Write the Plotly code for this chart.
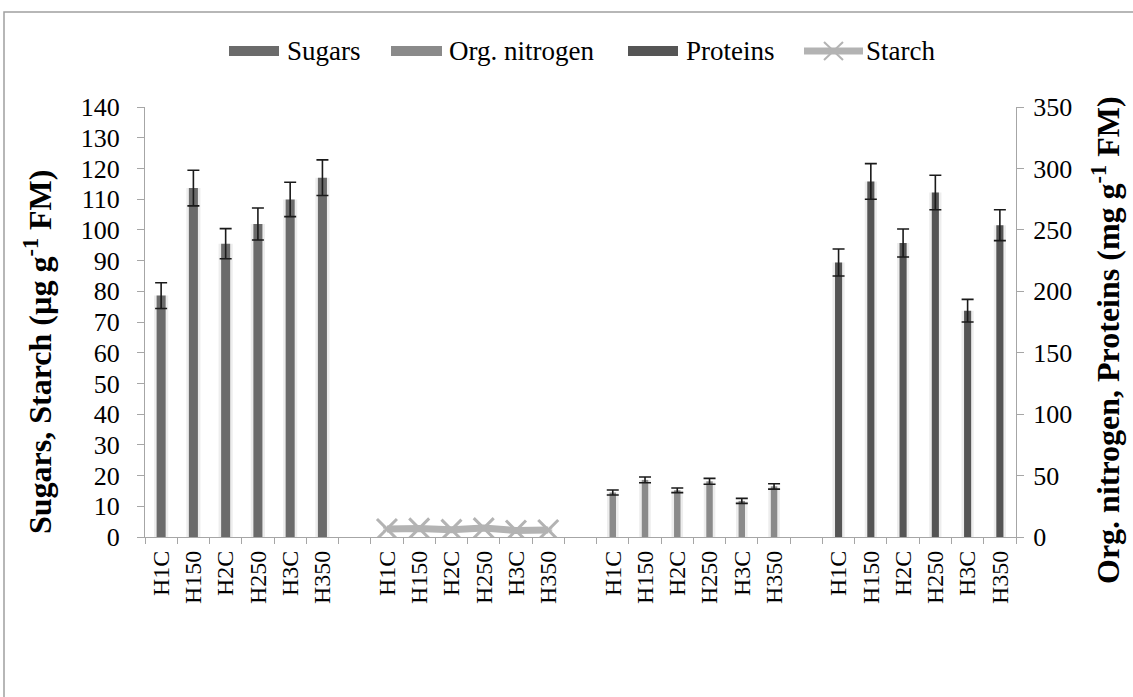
import plotly.graph_objects as go

labels = ["H1C", "H150", "H2C", "H250", "H3C", "H350"]

sugars = [78.6, 113.6, 95.5, 101.9, 109.9, 117.0]
sugars_err = [4.2, 5.8, 4.9, 5.2, 5.6, 5.8]

starch = [2.6, 2.8, 2.4, 2.9, 2.1, 2.3]
starch_err = [0.4, 0.4, 0.3, 0.4, 0.3, 0.3]

org_nitrogen = [36.2, 46.5, 38.0, 45.3, 29.4, 41.2]
org_nitrogen_err = [2.0, 2.3, 1.9, 2.4, 2.0, 2.2]

proteins = [223.4, 289.4, 239.3, 280.4, 184.2, 253.8]
proteins_err = [11.0, 14.5, 11.4, 14.0, 9.2, 12.6]

series_names = ["Sugars", "Org. nitrogen", "Proteins", "Starch"]
left_title = "<b>Sugars, Starch (µg g<sup>-1</sup> FM)</b>"
right_title = "<b>Org. nitrogen, Proteins (mg g<sup>-1</sup> FM)</b>"

W, H = 1133, 697
L, R, T, B = 145, 1016, 107, 537  # plot area in pixels
pw, ph = R - L, B - T
px = lambda v: (v - L) / pw
py = lambda v: (B - v) / ph

n = len(labels)
gap = 1
pos = lambda g: [g * (n + gap) + i for i in range(n)]
x_sug, x_sta, x_org, x_pro = pos(0), pos(1), pos(2), pos(3)
all_x = x_sug + x_sta + x_org + x_pro
all_lab = labels * 4
ncat = 4 * n + 3 * gap

FONT = "Liberation Serif, Times New Roman, serif"
GRID = "#a6a6a6"
C_SUG, C_ORG, C_PRO, C_STA = "#6b6b6b", "#8a8a8a", "#555555", "#b3b3b3"

fig = go.Figure()

def err(vals):
    return dict(type="data", array=vals, visible=True, color="#1a1a1a",
                thickness=1.6, width=6)

def shadow(x, y, w, axis):
    fig.add_trace(go.Bar(x=x, y=y, width=w + 0.16,
                         marker=dict(color="rgba(0,0,0,0.07)", line_width=0),
                         showlegend=False, hoverinfo="skip", yaxis=axis))

shadow(x_sug, sugars, 0.28, "y")
fig.add_trace(go.Bar(name=series_names[0], x=x_sug, y=sugars, width=0.28, showlegend=False,
                     marker=dict(color=C_SUG, line_width=0), error_y=err(sugars_err), yaxis="y"))
shadow(x_org, org_nitrogen, 0.2, "y2")
fig.add_trace(go.Bar(name=series_names[1], x=x_org, y=org_nitrogen, width=0.2, showlegend=False,
                     marker=dict(color=C_ORG, line_width=0), error_y=err(org_nitrogen_err), yaxis="y2"))
shadow(x_pro, proteins, 0.22, "y2")
fig.add_trace(go.Bar(name=series_names[2], x=x_pro, y=proteins, width=0.22, showlegend=False,
                     marker=dict(color=C_PRO, line_width=0), error_y=err(proteins_err), yaxis="y2"))
fig.add_trace(go.Scatter(name=series_names[3], x=x_sta, y=starch, mode="lines+markers", showlegend=False,
                         line=dict(color=C_STA, width=7),
                         marker=dict(symbol="x-thin", size=20, line=dict(color=C_STA, width=3)),
                         error_y=dict(type="data", array=starch_err, visible=True, color=C_STA,
                                      thickness=1.2, width=4),
                         yaxis="y"))

fig.update_layout(
    width=W, height=H,
    margin=dict(l=L, r=W - R, t=T, b=H - B, autoexpand=False),
    paper_bgcolor="white", plot_bgcolor="white",
    barmode="overlay",
    font=dict(family=FONT, color="#000000", size=24),
    showlegend=False,
    xaxis=dict(range=[-0.5, ncat - 0.5],
               tickmode="array", tickvals=all_x, ticktext=all_lab, tickangle=-90,
               ticks="", showline=True, linecolor=GRID, linewidth=1.2,
               showgrid=False, zeroline=False, ticklabelstandoff=3,
               tickfont=dict(family=FONT, size=24),
               minor=dict(tickmode="linear", tick0=-0.5, dtick=1, ticks="outside",
                          ticklen=6, tickcolor=GRID, tickwidth=1.2, showgrid=False)),
    yaxis=dict(range=[0, 140], tickmode="linear", tick0=0, dtick=10,
               ticks="outside", ticklen=7, tickcolor=GRID, tickwidth=1.2,
               showline=True, linecolor=GRID, linewidth=1.2, showgrid=False, zeroline=False,
               ticklabelstandoff=12, tickfont=dict(family=FONT, size=26)),
    yaxis2=dict(range=[0, 350], tickmode="linear", tick0=0, dtick=50, overlaying="y", side="right",
                ticks="outside", ticklen=7, tickcolor=GRID, tickwidth=1.2,
                showline=True, linecolor=GRID, linewidth=1.2, showgrid=False, zeroline=False,
                ticklabelstandoff=4, tickfont=dict(family=FONT, size=26)),
)

# axis titles (placed like the reference, not centred on the axis)
fig.add_annotation(text=left_title, xref="paper", yref="paper", x=px(38), y=py(352),
                   xanchor="center", yanchor="middle", textangle=-90, showarrow=False,
                   font=dict(family=FONT, size=32, color="#000"))
fig.add_annotation(text=right_title, xref="paper", yref="paper", x=px(1106), y=py(340),
                   xanchor="center", yanchor="middle", textangle=-90, showarrow=False,
                   font=dict(family=FONT, size=32, color="#000"))

# outer chart frame
fig.add_shape(type="rect", xref="paper", yref="paper",
              x0=px(4), x1=px(W + 20), y0=py(H + 20), y1=py(12),
              line=dict(color="#a0a0a0", width=1.5), fillcolor="rgba(0,0,0,0)", layer="below")

# legend (drawn as shapes + text to match the reference layout)
LY = 51
legend_items = [
    (series_names[0], C_SUG, 229, 279, 285),
    (series_names[1], C_ORG, 391, 442, 447),
    (series_names[2], C_PRO, 628, 678, 684),
]
for name, col, x0, x1, tx in legend_items:
    fig.add_shape(type="rect", xref="paper", yref="paper",
                  x0=px(x0), x1=px(x1), y0=py(LY + 5), y1=py(LY - 5),
                  line_width=0, fillcolor=col)
    fig.add_annotation(text=name, xref="paper", yref="paper", x=px(tx), y=py(LY),
                       xanchor="left", yanchor="middle", showarrow=False,
                       font=dict(family=FONT, size=27, color="#000"))
fig.add_shape(type="line", xref="paper", yref="paper", x0=px(804), x1=px(863),
              y0=py(LY), y1=py(LY), line=dict(color=C_STA, width=7))
fig.add_shape(type="line", xref="paper", yref="paper", x0=px(824), x1=px(843),
              y0=py(LY - 9), y1=py(LY + 9), line=dict(color=C_STA, width=2))
fig.add_shape(type="line", xref="paper", yref="paper", x0=px(824), x1=px(843),
              y0=py(LY + 9), y1=py(LY - 9), line=dict(color=C_STA, width=2))
fig.add_annotation(text=series_names[3], xref="paper", yref="paper", x=px(864), y=py(LY),
                   xanchor="left", yanchor="middle", showarrow=False,
                   font=dict(family=FONT, size=27, color="#000"))

fig.write_html("out.html", config={"displayModeBar": False},
               post_script="document.body.style.margin='0';document.body.style.overflow='hidden';")
